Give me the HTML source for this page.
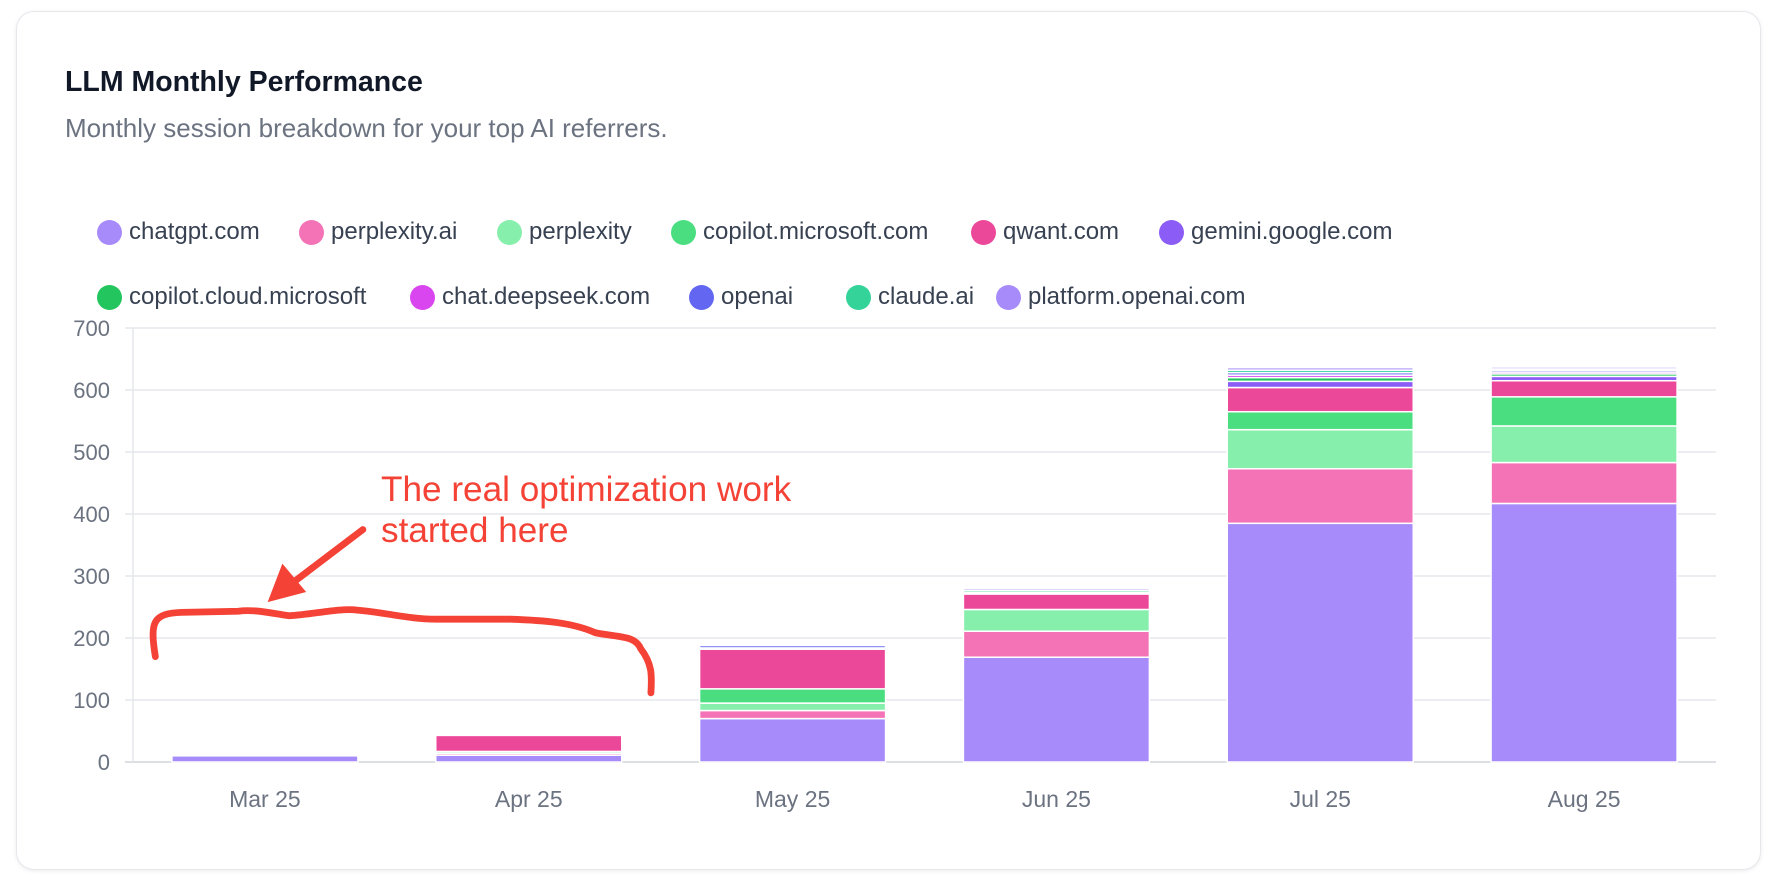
<!DOCTYPE html>
<html><head><meta charset="utf-8">
<style>
html,body{margin:0;padding:0;background:#fff;}
body{width:1778px;height:876px;position:relative;overflow:hidden;font-family:"Liberation Sans",Arial,sans-serif;}
.card{position:absolute;left:16px;top:11px;width:1743px;height:857px;border:1.5px solid #e5e7eb;border-radius:18px;box-shadow:0 1px 4px rgba(0,0,0,0.08);}
.title{position:absolute;left:65px;top:66px;font-size:28.5px;font-weight:bold;color:#111827;}
.sub{position:absolute;left:65px;top:113px;font-size:26px;color:#6b7280;}
.leg{position:absolute;display:flex;align-items:center;font-size:24px;color:#374151;white-space:nowrap;}
.leg i{display:inline-block;width:25px;height:25px;border-radius:50%;margin-right:7px;}
svg{position:absolute;left:0;top:0;}
</style></head>
<body>
<div class="card"></div>
<div class="title">LLM Monthly Performance</div>
<div class="sub">Monthly session breakdown for your top AI referrers.</div>
<div id="legend"></div>
<svg id="chart" width="1778" height="876"></svg>
<script>
const categories = ["Mar 25","Apr 25","May 25","Jun 25","Jul 25","Aug 25"];
const seriesNames = ["chatgpt.com","perplexity.ai","perplexity","copilot.microsoft.com","qwant.com","gemini.google.com","copilot.cloud.microsoft","chat.deepseek.com","openai","claude.ai","platform.openai.com"];
const seriesColors = ["#a78bfa","#f472b6","#86efac","#4ade80","#ec4899","#8b5cf6","#22c55e","#d946ef","#6366f1","#34d399","#a78bfa"];
const chatgpt     = [10, 11, 70, 169, 385, 417];
const perplexityAi= [1, 3, 13, 42, 88, 66];
const perplexity  = [1, 3, 12, 35, 63, 59];
const copilot     = [0, 0, 23, 0, 29, 47];
const qwant       = [0, 26, 64, 25, 39, 26];
const gemini      = [0, 0, 0, 1, 10, 7];
const copilotCloud= [0, 0, 1, 0, 6, 4];
const deepseek    = [0, 0, 1, 0, 4, 3];
const openai      = [0, 0, 4, 2, 4, 3];
const claude      = [0, 0, 1, 3, 4, 2];
const platform    = [2, 1, 1, 3, 4, 3];
const yTicks = [0,100,200,300,400,500,600,700];
const seriesValues = [chatgpt,perplexityAi,perplexity,copilot,qwant,gemini,copilotCloud,deepseek,openai,claude,platform];

const legendPos = [[97,232],[299,232],[497,232],[671,232],[971,232],[1159,232],[97,297],[410,297],[689,297],[846,297],[996,297]];
const lg = document.getElementById('legend');
seriesNames.forEach((n,i)=>{
  const d=document.createElement('div');
  d.className='leg';
  d.style.left=legendPos[i][0]+'px';d.style.top=(legendPos[i][1]-14)+'px';
  d.innerHTML='<i style="background:'+seriesColors[i]+'"></i>'+n;
  
  
  lg.appendChild(d);
});

const NS='http://www.w3.org/2000/svg';
const svg=document.getElementById('chart');
const X0=133,X1=1716,Y0=762,YMAX=700,PH=434;
const y=v=>Y0-v/YMAX*PH;
const band=(X1-X0)/categories.length;
const bw=band*0.705;
function el(t,a,p){const e=document.createElementNS(NS,t);for(const k in a)e.setAttribute(k,a[k]);(p||svg).appendChild(e);return e;}
yTicks.forEach(t=>{
  const g=el('line',{x1:X0-8,x2:X1,y1:y(t),y2:y(t),stroke:t===0?'#d1d5db':'#e5e7eb','stroke-width':1.5});
  
  
  const tx=el('text',{x:110,y:y(t)+8,'text-anchor':'end','font-size':22,fill:'#6b7280','font-family':'Liberation Sans, sans-serif'});
  tx.textContent=t;
  
  
});
const ax=el('line',{x1:X0,x2:X0,y1:y(700),y2:Y0,stroke:'#e5e7eb','stroke-width':1.5});


categories.forEach((c,i)=>{
  const cx=X0+band*(i+0.5);
  let acc=0;
  seriesValues.forEach((s,j)=>{
    const v=s[i]; if(!v) return;
    const r=el('rect',{x:cx-bw/2,y:y(acc+v),width:bw,height:y(acc)-y(acc+v),fill:seriesColors[j],stroke:'#fff','stroke-width':1.5});
    
    
    acc+=v;
  });
  const t=el('text',{x:cx,y:807,'text-anchor':'middle','font-size':23,fill:'#6b7280','font-family':'Liberation Sans, sans-serif'});
  t.textContent=c;
  
  
});
const ag=el('g',{transform:'scale(1.134)'});


el('path',{d:'M137,579 C132,548 135,541 160,540 L210,539 C225,537 240,541 255,543 C275,542 300,536 315,538 C340,540 360,546 385,546 L450,546 C480,547 505,549 525,558 C545,562 560,560 565,572 C575,585 575,595 574,611',fill:'none',stroke:'#f44336','stroke-width':6,'stroke-linecap':'round','stroke-linejoin':'round'},ag);
el('line',{x1:320,y1:467,x2:258,y2:514,stroke:'#f44336','stroke-width':6,'stroke-linecap':'round'},ag);
el('polygon',{points:'236,531 249,497 270,522',fill:'#f44336'},ag);
const a1=el('text',{x:336,y:442,'font-size':31,fill:'#f44336','font-family':'Liberation Sans, sans-serif'},ag);
a1.textContent='The real optimization work';
const a2=el('text',{x:336,y:478,'font-size':31,fill:'#f44336','font-family':'Liberation Sans, sans-serif'},ag);
a2.textContent='started here';
</script>
</body></html>
